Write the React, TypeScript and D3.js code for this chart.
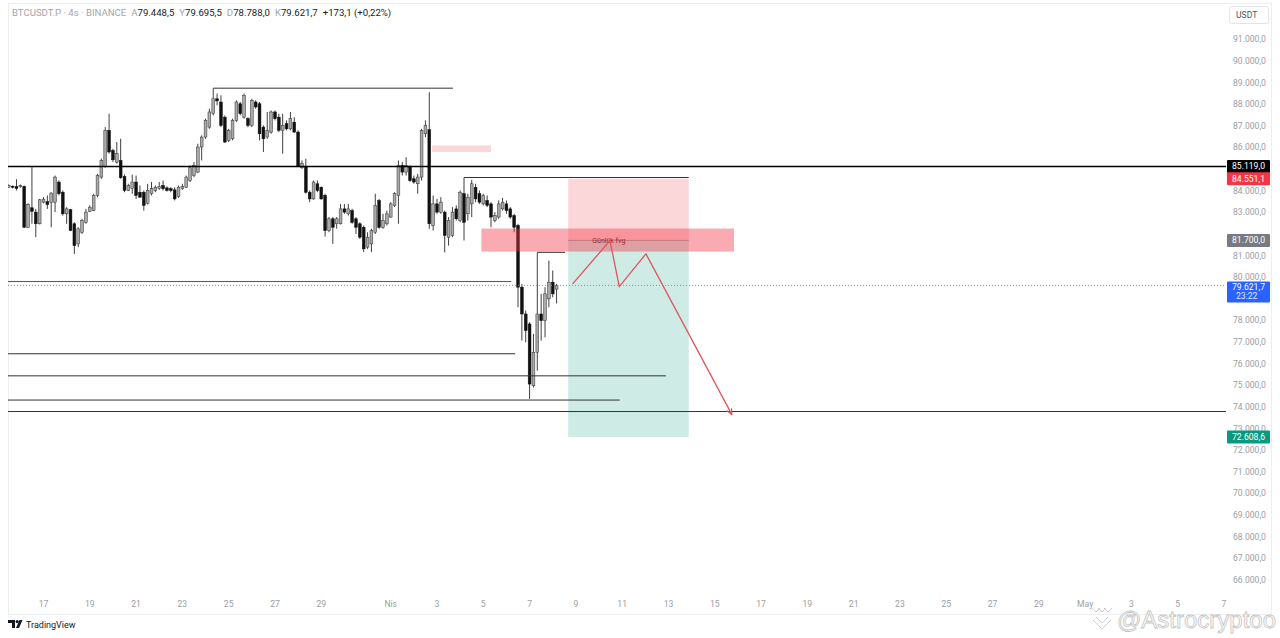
import React from "react";
import * as d3 from "d3";

const W = 1280;
const H = 638;

// ---- candle data (4h, BTCUSDT.P) ----
const candleStartUtc = Date.UTC(2025, 2, 15, 12);
const candleStepMs = 4 * 3600 * 1000;

const opens = [
  84160, 84210, 84190, 84190, 84200, 82310, 83210, 83010, 82470, 83470,
  83490, 83450, 83470, 84400, 83930, 82930, 83120, 82470, 81540, 82080,
  82540, 83050, 83080, 83780, 84630, 85120, 86790, 85860, 85320, 85400,
  84660, 84010, 84090, 84400, 83930, 83930, 83420, 83860, 84010, 84090,
  84240, 84130, 84090, 84040, 83730, 84090, 84160, 84470, 84700, 84860,
  86020, 86480, 86940, 87560, 88250, 88100, 87400, 86330, 86400, 87250,
  88020, 87400, 87330, 87020, 88100, 88020, 86940, 86480, 86710, 87640,
  87400, 86790, 87100, 86860, 87170, 86710, 85060, 85120, 83930, 83620,
  84320, 84160, 83780, 82160, 82700, 82470, 82470, 83160, 82930, 83080,
  82700, 82470, 82310, 81390, 81540, 82080, 83550, 82310, 82470, 82780,
  83320, 83780, 85170, 84860, 85090, 84550, 84320, 84630, 86630, 86820,
  82390, 83390, 83010, 83010, 81850, 81930, 83160, 82620, 83860, 82930,
  83390, 84160, 83860, 83390, 83550, 83390, 82620, 82780, 83160, 83390,
  83160, 82850, 82390, 79540, 78300, 77840, 74980, 76530, 78300, 77990,
  79000, 79770, 79448.5,
];
const highs = [
  84290, 84240, 84530, 84290, 84240, 83420, 85100, 83160, 83620, 83700,
  83780, 83930, 84700, 84470, 84010, 83240, 83160, 82540, 82310, 82700,
  83160, 83320, 83860, 84780, 85480, 86940, 87560, 85940, 86250, 86400,
  84750, 84320, 84740, 84700, 84240, 84010, 84320, 84400, 84240, 84400,
  84470, 84200, 84160, 84160, 84240, 84320, 84700, 85170, 85320, 86170,
  86560, 87330, 87790, 88740, 88490, 88410, 87480, 86860, 87330, 88180,
  88100, 88490, 87400, 88250, 88180, 88100, 87020, 87640, 87710, 87710,
  87560, 87560, 87250, 87640, 87400, 86790, 85400, 85480, 84010, 84470,
  84470, 84200, 83860, 82780, 82780, 82780, 83390, 83390, 83390, 83160,
  82780, 82540, 82390, 82080, 82240, 83860, 83620, 82930, 83080, 83470,
  83930, 85400, 85320, 85550, 85170, 84700, 84780, 86860, 87250, 88550,
  83780, 83620, 83700, 83080, 82780, 83240, 83320, 84010, 84610, 83860,
  84500, 84320, 84010, 83860, 83780, 83470, 83010, 83550, 83670, 83550,
  83240, 82930, 82470, 79690, 78460, 77920, 77380, 81150, 79230, 79540,
  80770, 80310, 79695.5,
];
const lows = [
  84130, 84100, 84010, 84130, 82280, 82280, 82470, 81850, 82440, 83420,
  83160, 82310, 83010, 83780, 82850, 82470, 82130, 81080, 81390, 82000,
  82470, 83010, 83050, 83700, 84550, 85060, 85710, 85320, 85250, 84550,
  83930, 83980, 83860, 83620, 83670, 83080, 83360, 83780, 83930, 84040,
  84010, 83960, 83930, 83550, 83670, 84040, 84130, 84400, 84630, 84810,
  85400, 86400, 86860, 87480, 87950, 86940, 86200, 86250, 86330, 87170,
  87480, 87330, 86940, 86940, 87790, 86330, 85790, 86400, 86630, 87250,
  86710, 85710, 86790, 86790, 86660, 85090, 85010, 83860, 83470, 83580,
  83930, 83580, 81880, 82080, 81540, 82240, 82440, 82930, 82850, 82470,
  82000, 81770, 81160, 81310, 81160, 82000, 82240, 82240, 82390, 82750,
  83240, 82470, 84700, 84700, 84400, 84320, 83860, 84470, 86480, 82240,
  82160, 82930, 82930, 81150, 81460, 81850, 82620, 82540, 81700, 82620,
  82780, 83470, 83390, 83320, 83240, 82310, 82540, 82700, 83080, 82930,
  82700, 82080, 78610, 77070, 76990, 74370, 74900, 75680, 77070, 77220,
  78610, 79070, 78788,
];
const closes = [
  84230, 84160, 84100, 84250, 82310, 83360, 83050, 82470, 83580, 83610,
  83360, 83890, 84630, 83860, 82930, 83160, 82160, 81460, 82240, 82620,
  83010, 83240, 83780, 84700, 85400, 86790, 85790, 85430, 85710, 84600,
  84010, 84240, 84400, 83780, 83700, 83320, 84010, 84090, 84160, 84200,
  84090, 84010, 84010, 83620, 84160, 84200, 84630, 85060, 85170, 86020,
  86480, 87250, 87640, 88250, 88150, 87020, 86250, 86790, 87250, 88100,
  87560, 88410, 87020, 88180, 87870, 86630, 86400, 86790, 87640, 87330,
  86790, 87020, 86860, 87330, 86710, 85120, 85250, 83930, 83620, 84400,
  84010, 83620, 82160, 82700, 82310, 82700, 83160, 83010, 83160, 82540,
  82310, 81850, 81310, 81850, 82160, 83320, 82310, 82620, 82930, 83390,
  83860, 85170, 84860, 85170, 84470, 84400, 84630, 86790, 87020, 82470,
  83390, 83010, 83470, 81930, 82620, 83010, 82700, 83930, 82540, 83700,
  84320, 83620, 83470, 83780, 83320, 82780, 82850, 83390, 83470, 83080,
  82780, 82310, 79540, 78300, 77530, 75060, 76530, 78300, 77990, 79230,
  79770, 79230, 79621.7,
];

// ---- axes ----
const priceTicks = [
  66000, 67000, 68000, 69000, 70000, 71000, 72000, 73000, 74000, 75000, 76000,
  77000, 78000, 79000, 80000, 81000, 82000, 83000, 84000, 85000, 86000, 87000,
  88000, 89000, 90000, 91000,
];
const timeTickDates = [
  "2025-03-17", "2025-03-19", "2025-03-21", "2025-03-23", "2025-03-25", "2025-03-27",
  "2025-03-29", "2025-04-01", "2025-04-03", "2025-04-05", "2025-04-07", "2025-04-09",
  "2025-04-11", "2025-04-13", "2025-04-15", "2025-04-17", "2025-04-19", "2025-04-21",
  "2025-04-23", "2025-04-25", "2025-04-27", "2025-04-29", "2025-05-01", "2025-05-03",
  "2025-05-05", "2025-05-07",
];
const timeTickLabels = [
  "17", "19", "21", "23", "25", "27", "29", "Nis", "3", "5", "7", "9", "11", "13",
  "15", "17", "19", "21", "23", "25", "27", "29", "May", "3", "5", "7",
];

// ---- header ----
const symbolText = "BTCUSDT.P · 4s · BINANCE";
const ohlcLetters = ["A", "Y", "D", "K"];
const ohlcValues = [79448.5, 79695.5, 78788.0, 79621.7];
const changeAbs = 173.1;
const changePct = 0.22;
const countdownText = "23:22";

// ---- drawings ----
const levelPrices = [85119, 88740, 84610, 81150, 79800, 76460, 75440, 74320, 73790];
const levelStarts = [
  null, "2025-03-24T08:00Z", "2025-04-04T04:00Z", "2025-04-07T08:00Z",
  null, null, null, null, null,
];
const levelEnds = [
  null, "2025-04-03T16:30Z", "2025-04-13T21:00Z", "2025-04-08T12:45Z",
  "2025-04-06T05:00Z", "2025-04-06T09:00Z", "2025-04-12T21:20Z", "2025-04-10T21:30Z", null,
];

const positionStart = "2025-04-08T16:00Z";
const positionEnd = "2025-04-13T21:00Z";
const entryPrice = 81700.0;
const stopPrice = 84551.1;
const targetPrice = 72608.6;

const fvgStart = "2025-04-04T22:00Z";
const fvgEnd = "2025-04-15T20:00Z";
const fvgTop = 82250;
const fvgBottom = 81185;
const fvgLabel = "Günlük fvg";
const fvgLabelDate = "2025-04-09T17:00Z";
const fvgLabelPrice = 81600;

const zoneStart = "2025-04-02T19:00Z";
const zoneEnd = "2025-04-05T08:00Z";
const zoneTop = 86090;
const zoneBottom = 85790;

const pathDates = [
  "2025-04-08T20:40Z", "2025-04-10T11:20Z", "2025-04-10T21:00Z",
  "2025-04-12T00:40Z", "2025-04-15T17:30Z",
];
const pathPrices = [79689, 81694, 79565, 81079, 73670];

const quoteCurrency = "USDT";
const watermarkText = "@Astrocryptoo";
const brandText = "TradingView";

// ---- layout ----
const plotLeft = 8;
const plotRight = 1226;
const plotTop = 3;
const plotBottom = 592;

const tr = d3.formatLocale({ decimal: ",", thousands: ".", grouping: [3], currency: ["", ""] });
const fmtPrice = tr.format(",.1f");
const fmtChange = tr.format("+,.1f");
const fmtPct = tr.format("+,.2f");

export default function App() {
  const x = d3
    .scaleUtc()
    .domain([new Date(Date.UTC(2025, 2, 17)), new Date(Date.UTC(2025, 4, 7))])
    .range([43.5, 1224]);
  const y = d3.scaleLinear().domain([66000, 91000]).range([580, 39.3]);
  const xd = (s: string) => x(new Date(s));

  const font = "Roboto, 'Noto Sans', sans-serif";
  const bodyW = 2.8;

  const pathLine = d3
    .line<number>()
    .x((_, i) => xd(pathDates[i]))
    .y((p) => y(p));

  const posX0 = xd(positionStart);
  const posX1 = xd(positionEnd);

  // price labels shown on the axis; ticks hidden beneath them are skipped
  const labelCenters = [y(levelPrices[0]), y(stopPrice), y(entryPrice), y(targetPrice), y(ohlcValues[3]) + 6];
  const tickHidden = (p: number) => labelCenters.some((c) => Math.abs(y(p) - c) < 7.5);

  const labelBox = (price: number, bg: string, key: string, text: string) => {
    const cy = y(price);
    return (
      <g key={key}>
        <rect x={1227} y={cy - 6.5} width={43} height={13} fill={bg} rx={1} />
        <text x={1248.5} y={cy + 3} fontSize={8.6} fill="#fff" textAnchor="middle" fontFamily={font}>
          {text}
        </text>
      </g>
    );
  };

  return (
    <svg
      width={W}
      height={H}
      viewBox={`0 0 ${W} ${H}`}
      style={{ position: "absolute", left: 0, top: 0, display: "block", background: "#fff" }}
    >
      <defs>
        <clipPath id="plot">
          <rect x={plotLeft} y={plotTop} width={plotRight - plotLeft} height={plotBottom - plotTop} />
        </clipPath>
        <marker id="arrow" viewBox="0 0 10 10" refX="8" refY="5" markerWidth="5" markerHeight="5" orient="auto">
          <path d="M0,1 L9,5 L0,9" fill="none" stroke="#e0555c" strokeWidth={1.8} />
        </marker>
      </defs>
      <rect x={0} y={0} width={W} height={H} fill="#fff" />
      <rect x={8.5} y={3.5} width={1263} height={611} fill="none" stroke="#eceef2" />

      <g clipPath="url(#plot)">
        {/* candles */}
        {opens.map((o, i) => {
          const cx = x(new Date(candleStartUtc + i * candleStepMs));
          const c = closes[i];
          const up = c >= o;
          const yt = y(Math.max(o, c));
          const yb = y(Math.min(o, c));
          return (
            <g key={i}>
              <line x1={cx} x2={cx} y1={y(highs[i])} y2={y(lows[i])} stroke="#2a2a2a" strokeWidth={0.9} />
              <rect
                x={cx - bodyW / 2}
                y={yt}
                width={bodyW}
                height={Math.max(0.9, yb - yt)}
                fill={up ? "#a9a9a9" : "#111"}
                stroke={up ? "#333" : "#111"}
                strokeWidth={0.5}
              />
            </g>
          );
        })}

        {/* small pink zone */}
        <rect
          x={xd(zoneStart)}
          y={y(zoneTop)}
          width={xd(zoneEnd) - xd(zoneStart)}
          height={y(zoneBottom) - y(zoneTop)}
          fill="rgba(242,54,69,0.2)"
        />

        {/* short position */}
        <rect x={posX0} y={y(stopPrice)} width={posX1 - posX0} height={y(entryPrice) - y(stopPrice)} fill="rgba(242,54,69,0.2)" />
        <rect x={posX0} y={y(entryPrice)} width={posX1 - posX0} height={y(targetPrice) - y(entryPrice)} fill="rgba(8,153,129,0.2)" />
        <line x1={posX0} x2={posX1} y1={y(entryPrice)} y2={y(entryPrice)} stroke="#9a9a9a" strokeWidth={0.8} />

        {/* FVG */}
        <rect
          x={xd(fvgStart)}
          y={y(fvgTop)}
          width={xd(fvgEnd) - xd(fvgStart)}
          height={y(fvgBottom) - y(fvgTop)}
          fill="rgba(242,54,69,0.42)"
        />
        <text x={xd(fvgLabelDate)} y={y(fvgLabelPrice)} fontSize={7} fill="#9c2a33" fontFamily={font}>
          {fvgLabel}
        </text>

        {/* horizontal levels */}
        {levelPrices.map((p, i) => {
          const x0 = levelStarts[i] ? xd(levelStarts[i] as string) : plotLeft;
          const x1 = levelEnds[i] ? xd(levelEnds[i] as string) : plotRight;
          const main = i === 0;
          return (
            <line
              key={i}
              x1={x0}
              x2={x1}
              y1={y(p)}
              y2={y(p)}
              stroke={main ? "#000" : i === 4 ? "#555" : "#333"}
              strokeWidth={main ? 1.6 : 1}
            />
          );
        })}

        {/* current price dotted line */}
        <line
          x1={plotLeft}
          x2={plotRight}
          y1={y(ohlcValues[3])}
          y2={y(ohlcValues[3])}
          stroke="#7f93b5"
          strokeWidth={1}
          strokeDasharray="1 2"
        />

        {/* projection path */}
        <path
          d={pathLine(pathPrices) || ""}
          fill="none"
          stroke="#e0555c"
          strokeWidth={1.3}
          markerEnd="url(#arrow)"
        />
      </g>

      {/* price axis */}
      {priceTicks
        .filter((p) => !tickHidden(p))
        .map((p) => (
          <text key={p} x={1233} y={y(p) + 3} fontSize={8.6} fill="#9b9ea6" fontFamily={font}>
            {fmtPrice(p)}
          </text>
        ))}
      <rect x={1229.5} y={6.5} width={39} height={17} rx={2} fill="#fff" stroke="#e3e5ea" />
      <text x={1236} y={18} fontSize={8.6} fill="#555" fontFamily={font}>
        {quoteCurrency}
      </text>

      {labelBox(levelPrices[0], "#000", "l1", fmtPrice(levelPrices[0]))}
      {labelBox(stopPrice, "#f23645", "l2", fmtPrice(stopPrice))}
      {labelBox(entryPrice, "#777a80", "l3", fmtPrice(entryPrice))}
      {labelBox(targetPrice, "#089981", "l4", fmtPrice(targetPrice))}
      <g>
        <rect x={1227} y={y(ohlcValues[3]) - 4} width={43} height={21} fill="#2962ff" rx={1} />
        <text x={1248.5} y={y(ohlcValues[3]) + 4.5} fontSize={8.6} fill="#fff" textAnchor="middle" fontFamily={font}>
          {fmtPrice(ohlcValues[3])}
        </text>
        <text x={1236} y={y(ohlcValues[3]) + 14} fontSize={8.6} fill="#dfe6ff" fontFamily={font}>
          {countdownText}
        </text>
      </g>

      {/* time axis */}
      {timeTickDates.map((d, i) => (
        <text key={d} x={xd(d + "T00:00Z")} y={607} fontSize={8.6} fill="#9b9ea6" textAnchor="middle" fontFamily={font}>
          {timeTickLabels[i]}
        </text>
      ))}

      {/* header */}
      <text y={16} fontSize={9.6} fontFamily={font}>
        <tspan x={12} fill="#a3a6ae">{symbolText}</tspan>
        {ohlcLetters.map((l, i) => (
          <React.Fragment key={l}>
            <tspan fill="#a3a6ae" dx={5}>{l}</tspan>
            <tspan fill="#222">{fmtPrice(ohlcValues[i])}</tspan>
          </React.Fragment>
        ))}
        <tspan fill="#222" dx={5}>{`${fmtChange(changeAbs)} (${fmtPct(changePct)}%)`}</tspan>
      </text>

      {/* TradingView brand */}
      <g transform="translate(8,620)">
        <path d="M0 0 H7 V8 H4 V3 H0 Z" fill="#131722" />
        <circle cx={9.2} cy={1.6} r={1.6} fill="#131722" />
        <path d="M11.5 0 H14.5 L11 8 H8 Z" fill="#131722" />
        <text x={18} y={8} fontSize={9} fill="#131722" fontFamily={font}>
          {brandText}
        </text>
      </g>

      {/* watermark */}
      <g fill="none" stroke="#c9c9c9" strokeWidth={0.9}>
        <path d="M1092 608 l4 4 l4 -4 M1098 608 l4 4 l4 -4 M1104 608 l4 4 l4 -4" />
        <path d="M1096 617 l6 6 l6 -6 M1093 620 l9 9 l9 -9" />
      </g>
      <text
        x={1117}
        y={628}
        fontSize={24}
        fill="#fff"
        stroke="#c4c4c4"
        strokeWidth={0.8}
        fontFamily="'Liberation Sans', Arial, sans-serif"
        textLength={159}
        lengthAdjust="spacingAndGlyphs"
      >
        {watermarkText}
      </text>
    </svg>
  );
}
